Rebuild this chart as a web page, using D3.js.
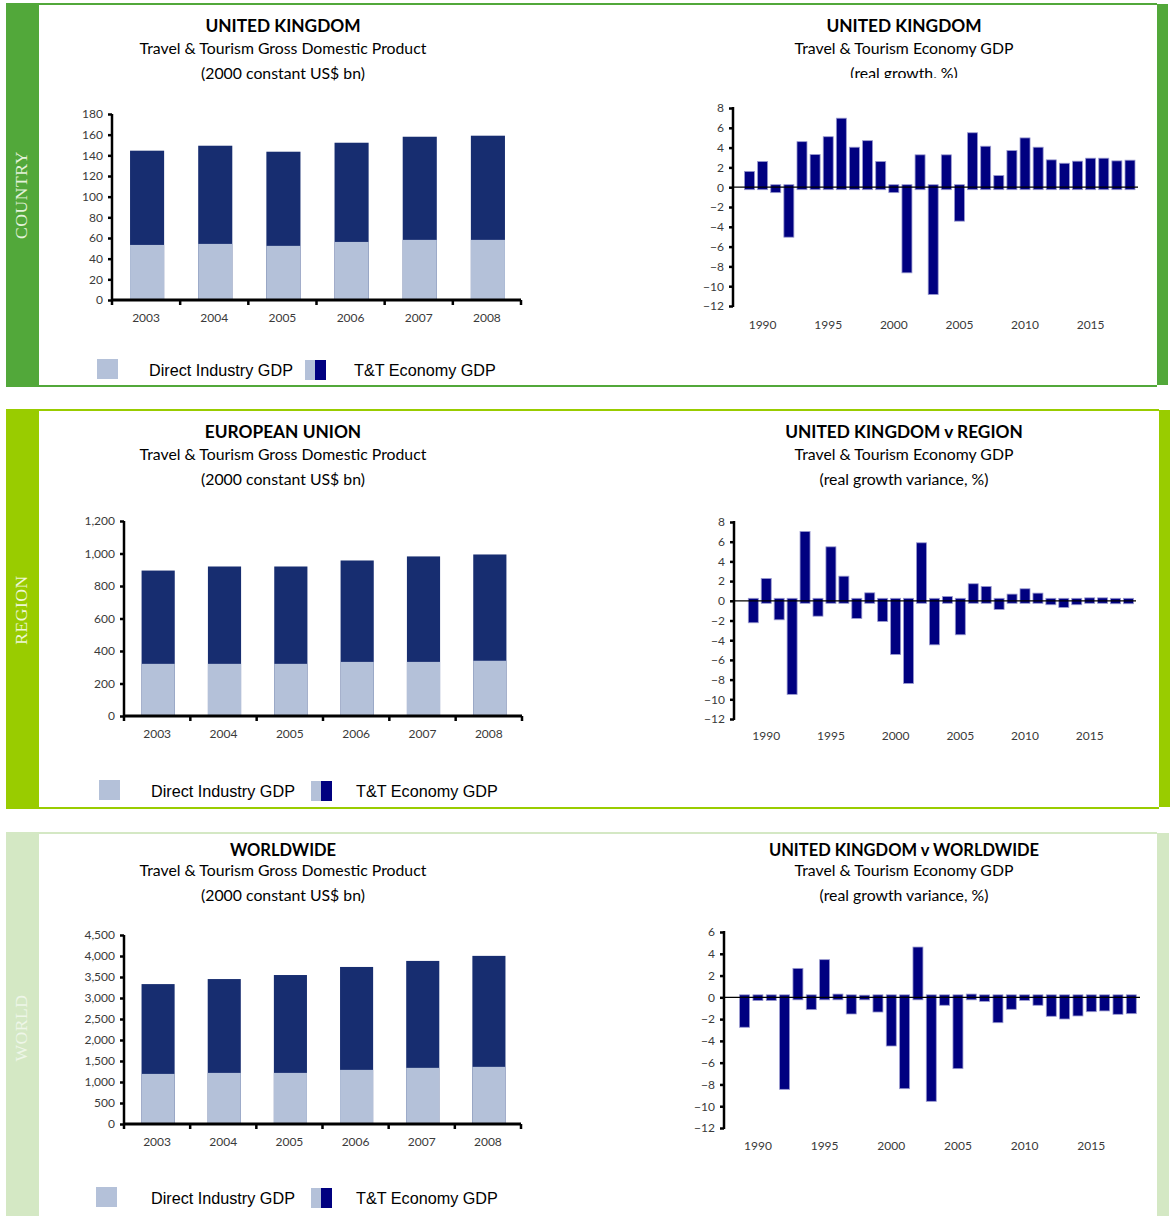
<!DOCTYPE html>
<html><head><meta charset="utf-8">
<script src="https://cdn.jsdelivr.net/npm/d3@7"></script>
<style>body{margin:0;background:#fff;} svg{display:block}</style>
</head><body>
<svg id="c" width="1173" height="1216"></svg>
<script>
// ---------- DATA ----------
const gdpYears = ["2003","2004","2005","2006","2007","2008"];
const ukDirect = [53.3,54.3,52.4,56.2,58.2,58.2];
const ukTotal = [144.5,149.3,143.5,152.2,158.0,159.0];
const euDirect = [321,321,321,333,333,340];
const euTotal = [895,920,920,957,982,994];
const worldDirect = [1193,1217,1217,1289,1337,1361];
const worldTotal = [3331,3451,3547,3739,3883,4003];
const ukGdpTicks = [0,20,40,60,80,100,120,140,160,180];
const euGdpTicks = [0,200,400,600,800,1000,1200];
const worldGdpTicks = [0,500,1000,1500,2000,2500,3000,3500,4000,4500];

const growthYears = [1989,1990,1991,1992,1993,1994,1995,1996,1997,1998,1999,2000,2001,2002,2003,2004,2005,2006,2007,2008,2009,2010,2011,2012,2013,2014,2015,2016,2017,2018];
const ukGrowth = [1.6,2.6,-0.55,-5.05,4.6,3.3,5.1,6.97,4.04,4.7,2.6,-0.55,-8.65,3.27,-10.84,3.27,-3.43,5.5,4.14,1.18,3.7,4.98,4.04,2.76,2.42,2.63,2.93,2.93,2.66,2.73];
const ukVsRegion = [-2.23,2.27,-1.93,-9.5,7.04,-1.56,5.48,2.5,-1.79,0.81,-2.1,-5.45,-8.39,5.89,-4.47,0.44,-3.45,1.73,1.46,-0.88,0.68,1.22,0.78,-0.4,-0.68,-0.4,0.3,0.3,-0.3,-0.3];
const ukVsWorld = [-2.75,-0.3,-0.3,-8.45,2.66,-1.13,3.46,0.3,-1.53,0.2,-1.35,-4.47,-8.39,4.62,-9.55,-0.73,-6.55,0.3,-0.37,-2.33,-1.1,-0.28,-0.73,-1.74,-1.99,-1.71,-1.32,-1.25,-1.56,-1.5];
const growthTicksA = [8,6,4,2,0,-2,-4,-6,-8,-10,-12];
const growthTicksB = [6,4,2,0,-2,-4,-6,-8,-10,-12];
const growthLabelYears = [1990,1995,2000,2005,2010,2015];

const sideLabels = ["COUNTRY","REGION","WORLD"];
const leftTitles = ["UNITED KINGDOM","EUROPEAN UNION","WORLDWIDE"];
const rightTitles = ["UNITED KINGDOM","UNITED KINGDOM v REGION","UNITED KINGDOM v WORLDWIDE"];
const leftSub = ["Travel & Tourism Gross Domestic Product","(2000 constant US$ bn)"];
const rightSub = ["Travel & Tourism Economy GDP"];
const rightSub2 = ["(real growth, %)","(real growth variance, %)","(real growth variance, %)"];
const legendLabels = ["Direct Industry GDP","T&T Economy GDP"];

// ---------- STYLE ----------
const LIGHT = "#b4c1d9", DARK = "#172d70", NAVY = "#000080";
const FONT = "Lato, 'Open Sans', sans-serif";
const TICKC = "#3a3a3a";
const svg = d3.select("#c");

function panel(top, bottom, color, rx0, rx1, label, labelColor, labelY){
  svg.append("rect").attr("x",6).attr("y",top).attr("width",33).attr("height",bottom-top).attr("fill",color);
  svg.append("rect").attr("x",6).attr("y",top).attr("width",rx0-6).attr("height",2).attr("fill",color);
  svg.append("rect").attr("x",6).attr("y",bottom-2).attr("width",rx0-6).attr("height",2).attr("fill",color);
  svg.append("rect").attr("x",rx0).attr("y",top+1).attr("width",rx1-rx0).attr("height",bottom-top-3).attr("fill",color);
  svg.append("text").attr("transform",`translate(27,${labelY}) rotate(-90)`)
    .attr("text-anchor","middle").attr("font-family","'Liberation Serif','DejaVu Serif',serif")
    .attr("font-size",17.5).attr("letter-spacing",0.6).attr("fill",labelColor).text(label);
}

function titles(cx, y1, y2, y3, t1, t2, t3, clipBottom, tSize){
  svg.append("text").attr("x",cx).attr("y",y1).attr("dy","0.36em").attr("text-anchor","middle")
    .attr("font-family",FONT).attr("font-weight","bold").attr("font-size",tSize||17.3).attr("fill","#000").text(t1);
  svg.append("text").attr("x",cx).attr("y",y2).attr("dy","0.36em").attr("text-anchor","middle")
    .attr("font-family",FONT).attr("font-size",15.8).attr("fill","#000").text(t2);
  const t = svg.append("text").attr("x",cx).attr("y",y3).attr("dy","0.36em").attr("text-anchor","middle")
    .attr("font-family",FONT).attr("font-size",15.8).attr("fill","#000").text(t3);
  if (clipBottom){
    const id = "clip"+Math.round(y3);
    svg.append("clipPath").attr("id",id).append("rect").attr("x",cx-200).attr("y",y3-20).attr("width",400).attr("height",clipBottom-(y3-20));
    t.attr("clip-path",`url(#${id})`);
  }
}

function stacked(cfg){
  const {x0,x1,yTop,yBot,ticks,direct,total,fmt} = cfg;
  const x = d3.scaleBand().domain(gdpYears).range([x0,x1]).paddingInner(0.5).paddingOuter(0.25);
  const y = d3.scaleLinear().domain([0,d3.max(ticks)]).range([yBot,yTop]);
  const g = svg.append("g");
  g.selectAll(".tot").data(gdpYears).join("rect")
    .attr("x",d=>x(d)+1).attr("width",x.bandwidth())
    .attr("y",(d,i)=>y(total[i])).attr("height",(d,i)=>y(0)-y(total[i])).attr("fill",DARK);
  g.selectAll(".dir").data(gdpYears).join("rect")
    .attr("x",d=>x(d)+1).attr("width",x.bandwidth())
    .attr("y",(d,i)=>y(direct[i])).attr("height",(d,i)=>y(0)-y(direct[i])).attr("fill",LIGHT);
  const ya = g.append("g").attr("transform",`translate(${x0},0)`)
    .call(d3.axisLeft(y).tickValues(ticks).tickFormat(fmt).tickSize(4).tickPadding(5));
  ya.select(".domain").attr("stroke","#000").attr("stroke-width",2.5).attr("d",`M0,${yTop}V${yBot+1}`);
  ya.selectAll(".tick line").attr("stroke","#000").attr("stroke-width",2.5);
  ya.selectAll(".tick text").attr("font-family",FONT).attr("font-size",12).attr("fill",TICKC);
  const xa = g.append("g").attr("transform",`translate(0,${yBot})`)
    .call(d3.axisBottom(x).tickSize(0).tickPadding(13));
  xa.select(".domain").attr("stroke","#000").attr("stroke-width",3).attr("d",`M${x0-1},0H${x1}`);
  xa.selectAll(".tick text").attr("font-family",FONT).attr("font-size",12).attr("fill",TICKC);
  const step = x.step();
  g.selectAll(".bt").data(d3.range(gdpYears.length+1)).join("line")
    .attr("x1",i=>x(gdpYears[0])-step*0.25+i*step).attr("x2",i=>x(gdpYears[0])-step*0.25+i*step)
    .attr("y1",yBot).attr("y2",yBot+5).attr("stroke","#000").attr("stroke-width",2.5);
}

function growth(cfg){
  const {ax, xFirst, xLast, xEnd, yTop, yBot, ticks, values, labelY} = cfg;
  const x = d3.scaleLinear().domain([growthYears[0], growthYears[growthYears.length-1]]).range([xFirst,xLast]);
  const y = d3.scaleLinear().domain([d3.max(ticks), d3.min(ticks)]).range([yTop,yBot]);
  const bw = 10, over = 2.5;
  const g = svg.append("g");
  g.selectAll("rect").data(growthYears).join("rect")
    .attr("x",d=>x(d)-bw/2).attr("width",bw)
    .attr("y",(d,i)=> values[i]>=0 ? y(values[i]) : y(0)-over)
    .attr("height",(d,i)=> Math.abs(y(values[i])-y(0))+over)
    .attr("fill",NAVY).attr("stroke","#9a9ad0").attr("stroke-width",0.8);
  g.append("line").attr("x1",ax).attr("x2",xEnd).attr("y1",y(0)).attr("y2",y(0)).attr("stroke","#000").attr("stroke-width",1.2);
  const ya = g.append("g").attr("transform",`translate(${ax},0)`)
    .call(d3.axisLeft(y).tickValues(ticks).tickSize(4).tickPadding(5));
  ya.select(".domain").attr("stroke","#000").attr("stroke-width",2.5).attr("d",`M0,${yTop-1}V${yBot+1}`);
  ya.selectAll(".tick line").attr("stroke","#000").attr("stroke-width",2.5);
  ya.selectAll(".tick text").attr("font-family",FONT).attr("font-size",12).attr("fill",TICKC);
  g.selectAll(".yl").data(growthLabelYears).join("text")
    .attr("x",d=>x(d)).attr("y",labelY).attr("dy","0.36em").attr("text-anchor","middle")
    .attr("font-family",FONT).attr("font-size",12).attr("fill",TICKC).text(d=>d);
}

function legend(sx, s2x, t1x, t2x, cy){
  svg.append("rect").attr("x",sx).attr("y",cy-10).attr("width",21).attr("height",20).attr("fill",LIGHT);
  svg.append("rect").attr("x",s2x).attr("y",cy-9).attr("width",10).attr("height",20).attr("fill",LIGHT);
  svg.append("rect").attr("x",s2x+10).attr("y",cy-9).attr("width",11).attr("height",20).attr("fill",NAVY);
  svg.append("text").attr("x",t1x).attr("y",cy+1).attr("dy","0.36em")
    .attr("font-family","'Liberation Sans',Arial,sans-serif").attr("font-size",16.2).attr("fill","#000").text(legendLabels[0]);
  svg.append("text").attr("x",t2x).attr("y",cy+1).attr("dy","0.36em")
    .attr("font-family","'Liberation Sans',Arial,sans-serif").attr("font-size",16.2).attr("fill","#000").text(legendLabels[1]);
}

const commaFmt = d3.format(",");

// Panel 1 : COUNTRY
panel(3, 387, "#52a83a", 1157, 1168, sideLabels[0], "#e4f2da", 195);
titles(283, 26, 48, 73, leftTitles[0], leftSub[0], leftSub[1]);
titles(904, 26, 48, 73, rightTitles[0], rightSub[0], rightSub2[0], 78);
stacked({x0:112, x1:521, yTop:114, yBot:300, ticks:ukGdpTicks, direct:ukDirect, total:ukTotal, fmt:d3.format("d")});
growth({ax:733, xFirst:749.5, xLast:1130, xEnd:1138, yTop:108, yBot:306, ticks:growthTicksA, values:ukGrowth, labelY:325});
legend(97, 305, 149, 354, 369);

// Panel 2 : REGION
panel(409, 809, "#99cc00", 1159, 1170, sideLabels[1], "#eef7d4", 610);
titles(283, 432, 454, 479, leftTitles[1], leftSub[0], leftSub[1]);
titles(904, 432, 454, 479, rightTitles[1], rightSub[0], rightSub2[1]);
stacked({x0:124, x1:522, yTop:521, yBot:716, ticks:euGdpTicks, direct:euDirect, total:euTotal, fmt:commaFmt});
growth({ax:734, xFirst:753.3, xLast:1128.5, xEnd:1136, yTop:522, yBot:719, ticks:growthTicksA, values:ukVsRegion, labelY:736});
legend(99, 311, 151, 356, 790);

// Panel 3 : WORLD
panel(832, 1240, "#d4e8c4", 1157, 1169, sideLabels[2], "#eef6e8", 1028);
titles(283, 850, 870.5, 895, leftTitles[2], leftSub[0], leftSub[1], null, 16.5);
titles(904, 850, 870.5, 895, rightTitles[2], rightSub[0], rightSub2[2], null, 16.5);
stacked({x0:124, x1:521, yTop:935, yBot:1124, ticks:worldGdpTicks, direct:worldDirect, total:worldTotal, fmt:commaFmt});
growth({ax:724, xFirst:744.6, xLast:1131.3, xEnd:1140, yTop:932, yBot:1128, ticks:growthTicksB, values:ukVsWorld, labelY:1146});
legend(96, 311, 151, 356, 1197);
</script>
</body></html>
